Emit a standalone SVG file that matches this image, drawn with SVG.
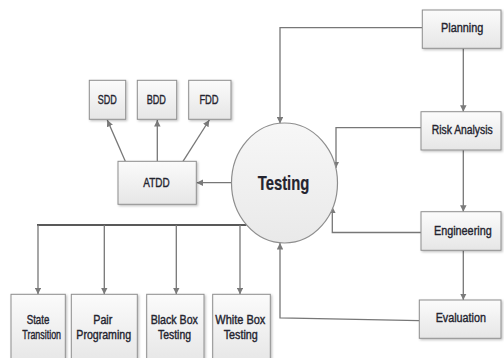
<svg xmlns="http://www.w3.org/2000/svg" width="504" height="358" viewBox="0 0 504 358">
  <defs>
    <linearGradient id="boxFill" x1="0" y1="0" x2="0" y2="1">
      <stop offset="0" stop-color="#fbfbfb"/>
      <stop offset="1" stop-color="#e6e6e6"/>
    </linearGradient>
    <linearGradient id="circleFill" x1="0" y1="0" x2="0" y2="1">
      <stop offset="0" stop-color="#f7f7f7"/>
      <stop offset="1" stop-color="#e9e9e9"/>
    </linearGradient>
    <filter id="shadow" x="-10%" y="-10%" width="130%" height="130%">
      <feDropShadow dx="1.2" dy="1.2" stdDeviation="0.8" flood-color="#000" flood-opacity="0.25"/>
    </filter>
    <marker id="arrow" viewBox="0 0 8 8" refX="8" refY="4" markerWidth="6.5" markerHeight="6.5" markerUnits="userSpaceOnUse" orient="auto">
      <path d="M0,0 L8,4 L0,8 Z" fill="#7a7a7a"/>
    </marker>
  </defs>
  <style>
    .box { fill: url(#boxFill); stroke: #8e8e8e; stroke-width: 1; filter: url(#shadow); }
    .hub { fill: url(#circleFill); stroke: #8e8e8e; stroke-width: 1.2; }
    .lbl { font-family: "Liberation Sans", Arial, sans-serif; font-size: 13.5px; fill: #24242f; stroke: #24242f; stroke-width: 0.4; text-anchor: middle; }
    .sm { font-size: 12.5px; }
    .big { font-size: 20px; font-weight: bold; stroke-width: 0.2; }
    .link { fill: none; stroke: #777; stroke-width: 1.3; }
    .arr { marker-end: url(#arrow); }
    .bus { fill: none; stroke: #222; stroke-width: 1.5; }
  </style>
  <rect width="504" height="358" fill="#ffffff"/>

  <!-- connectors -->
  <g id="connectors">
    <!-- spiral cycle on the right -->
    <polyline class="link arr" points="422,27.7 280,27.7 280,123.5"/>
    <line class="link arr" x1="463.3" y1="48.3" x2="463.3" y2="111.7"/>
    <polyline class="link arr" points="421,127.7 336,127.7 336,168"/>
    <line class="link arr" x1="463.3" y1="150" x2="463.3" y2="211.7"/>
    <polyline class="link arr" points="421,232.5 332.3,232.5 332.3,206.5"/>
    <line class="link arr" x1="463.3" y1="250.3" x2="463.3" y2="300"/>
    <polyline class="link arr" points="419.3,320.7 280,317.8 280,243"/>
    <!-- Testing to ATDD and its children -->
    <line class="link arr" x1="231.5" y1="182.7" x2="196.5" y2="182.7"/>
    <line class="link arr" x1="125.3" y1="161.3" x2="107.3" y2="120"/>
    <line class="link arr" x1="157.3" y1="161.3" x2="157.3" y2="120"/>
    <line class="link arr" x1="183" y1="161.3" x2="209.3" y2="120"/>
    <!-- bus to techniques -->
    <line class="bus" x1="37" y1="225" x2="246.5" y2="225"/>
    <line class="link arr" x1="38" y1="225" x2="38" y2="294.3"/>
    <line class="link arr" x1="104.3" y1="225" x2="104.3" y2="294.3"/>
    <line class="link arr" x1="176.3" y1="225" x2="176.3" y2="294.3"/>
    <line class="link arr" x1="240" y1="225" x2="240" y2="294.3"/>
  </g>

  <!-- labels use a horizontally condensed sans: translate to anchor, then scale x -->
  <g id="testing">
    <ellipse class="hub" cx="284.5" cy="183" rx="53" ry="60"/>
    <text class="lbl big" transform="translate(283.5,190) scale(0.78,1)" textLength="66.2" lengthAdjust="spacingAndGlyphs">Testing</text>
  </g>

  <g id="sdd">
    <rect class="box" x="89.3" y="80.3" width="36.4" height="39"/>
    <text class="lbl" transform="translate(107.2,104) scale(0.78,1)" textLength="24.4" lengthAdjust="spacingAndGlyphs">SDD</text>
  </g>
  <g id="bdd">
    <rect class="box" x="137.3" y="80.3" width="39.4" height="39"/>
    <text class="lbl" transform="translate(156.3,104) scale(0.78,1)" textLength="24.7" lengthAdjust="spacingAndGlyphs">BDD</text>
  </g>
  <g id="fdd">
    <rect class="box" x="188.7" y="80.3" width="42.3" height="39"/>
    <text class="lbl" transform="translate(209,104) scale(0.78,1)" textLength="24.7" lengthAdjust="spacingAndGlyphs">FDD</text>
  </g>
  <g id="atdd">
    <rect class="box" x="118" y="161.3" width="78.3" height="43"/>
    <text class="lbl" transform="translate(156.5,187) scale(0.78,1)" textLength="33.7" lengthAdjust="spacingAndGlyphs">ATDD</text>
  </g>

  <g id="planning">
    <rect class="box" x="422.3" y="10" width="78.7" height="38.3"/>
    <text class="lbl" transform="translate(462.2,32.3) scale(0.78,1)" textLength="54.2" lengthAdjust="spacingAndGlyphs">Planning</text>
  </g>
  <g id="risk-analysis">
    <rect class="box" x="421" y="111.7" width="80" height="38.3"/>
    <text class="lbl" transform="translate(462.2,134.3) scale(0.78,1)" textLength="78.2" lengthAdjust="spacingAndGlyphs">Risk Analysis</text>
  </g>
  <g id="engineering">
    <rect class="box" x="421" y="211.7" width="80" height="38.6"/>
    <text class="lbl" transform="translate(462.8,235) scale(0.78,1)" textLength="74" lengthAdjust="spacingAndGlyphs">Engineering</text>
  </g>
  <g id="evaluation">
    <rect class="box" x="419.3" y="300" width="81.7" height="38.3"/>
    <text class="lbl" transform="translate(460.8,322.3) scale(0.78,1)" textLength="64.5" lengthAdjust="spacingAndGlyphs">Evaluation</text>
  </g>

  <g id="state-transition">
    <rect class="box" x="11" y="294.3" width="54.3" height="70"/>
    <text class="lbl sm" transform="translate(38,323.8) scale(0.78,1)" textLength="29.1" lengthAdjust="spacingAndGlyphs">State</text>
    <text class="lbl sm" transform="translate(41.7,338.8) scale(0.78,1)" textLength="49.6" lengthAdjust="spacingAndGlyphs">Transition</text>
  </g>
  <g id="pair-programing">
    <rect class="box" x="71.3" y="294.3" width="66" height="70"/>
    <text class="lbl sm" transform="translate(102.8,323.8) scale(0.78,1)" textLength="24.4" lengthAdjust="spacingAndGlyphs">Pair</text>
    <text class="lbl sm" transform="translate(103.7,338.8) scale(0.78,1)" textLength="70.1" lengthAdjust="spacingAndGlyphs">Programing</text>
  </g>
  <g id="black-box-testing">
    <rect class="box" x="146.7" y="294.3" width="57.3" height="70"/>
    <text class="lbl sm" transform="translate(174.3,323.8) scale(0.78,1)" textLength="60.6" lengthAdjust="spacingAndGlyphs">Black Box</text>
    <text class="lbl sm" transform="translate(174.5,338.8) scale(0.78,1)" textLength="42.3" lengthAdjust="spacingAndGlyphs">Testing</text>
  </g>
  <g id="white-box-testing">
    <rect class="box" x="212.7" y="294.3" width="57.6" height="70"/>
    <text class="lbl sm" transform="translate(240.3,323.8) scale(0.78,1)" textLength="64.1" lengthAdjust="spacingAndGlyphs">White Box</text>
    <text class="lbl sm" transform="translate(240.7,338.8) scale(0.78,1)" textLength="43.6" lengthAdjust="spacingAndGlyphs">Testing</text>
  </g>
</svg>
